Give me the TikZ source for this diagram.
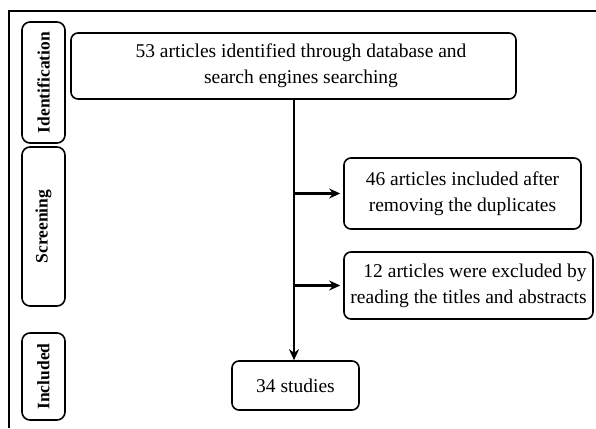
\documentclass[tikz,border=0pt]{standalone}
\usepackage{fontspec}
\setmainfont{Liberation Serif}
\usetikzlibrary{arrows.meta}
\tikzset{
  stagebox/.style={draw, line width=1.6pt, rounded corners=8pt, minimum width=43pt,
    inner sep=0pt, font=\fontsize{17.5}{20}\selectfont\bfseries},
  flowbox/.style={draw, line width=1.6pt, rounded corners=7pt, inner sep=0pt,
    align=center, font=\fontsize{19.5}{26}\selectfont},
  flowline/.style={line width=2.4pt, -{Stealth[length=11pt,width=10pt]}}
}
\begin{document}
\begin{tikzpicture}[x=1pt, y=-1pt]
\useasboundingbox (0,0) rectangle (596,428);
% outer frame (top and left edges)
\draw[line width=1.3pt] (596,11) -- (9,11) -- (9,428);

% stage labels on the left
\node[stagebox, minimum height=121pt] (ident) at (43.5,82.5) {\rotatebox{90}{Identification}};
\node[stagebox, minimum height=159pt] (screen) at (43.5,226.5) {\rotatebox{90}{Screening}};
\node[stagebox, minimum height=87pt] (incl) at (43.5,376.5) {\rotatebox{90}{Included}};

% flow boxes
\node[flowbox, minimum width=445pt, minimum height=66pt] (top) at (293.5,66)
  {\hspace*{15pt}53 articles identified through database and\\\hspace*{15pt}search engines searching};
\node[flowbox, minimum width=237pt, minimum height=71pt] (dup) at (462.5,193.5)
  {46 articles included after\\removing the duplicates};
\node[flowbox, minimum width=249pt, minimum height=67pt] (excl) at (468.5,285.5)
  {\hspace*{13pt}12 articles were excluded by\\reading the titles and abstracts};
\node[flowbox, minimum width=127pt, minimum height=49pt] (final) at (295.5,385.5)
  {34 studies};

% connectors
\coordinate (spine) at ([xshift=0.5pt]top.south);
\draw[flowline] (spine) -- (spine |- final.north);
\draw[flowline, shorten >=3pt] (spine |- dup.west) -- (dup.west);
\draw[flowline, shorten >=3pt] (spine |- excl.west) -- (excl.west);
\end{tikzpicture}
\end{document}
